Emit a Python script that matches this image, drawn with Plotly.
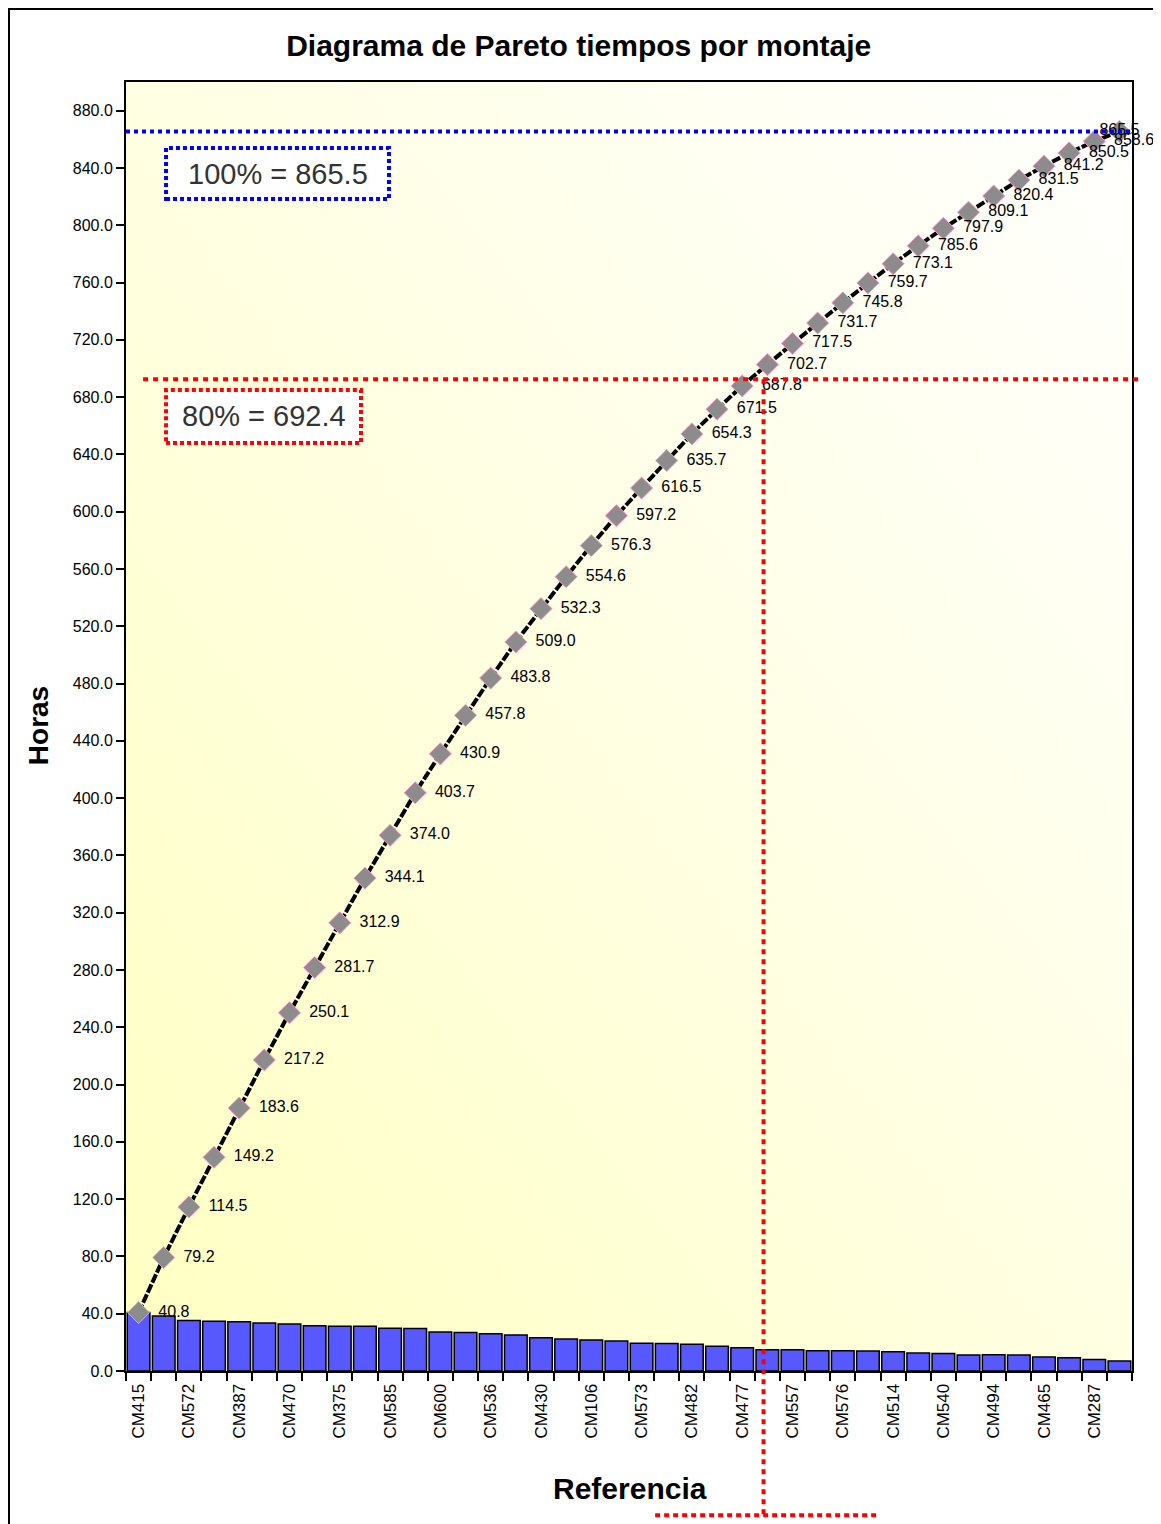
import base64
import plotly.graph_objects as go

# ---------------- data ----------------
cumulative = [40.8, 79.2, 114.5, 149.2, 183.6, 217.2, 250.1, 281.7, 312.9, 344.1,
              374.0, 403.7, 430.9, 457.8, 483.8, 509.0, 532.3, 554.6, 576.3, 597.2,
              616.5, 635.7, 654.3, 671.5, 687.8, 702.7, 717.5, 731.7, 745.8, 759.7,
              773.1, 785.6, 797.9, 809.1, 820.4, 831.5, 841.2, 850.5, 858.6, 865.5]
hours = [40.8, 38.4, 35.3, 34.7, 34.4, 33.6, 32.9, 31.6, 31.2, 31.2,
         29.9, 29.7, 27.2, 26.9, 26.0, 25.2, 23.3, 22.3, 21.7, 20.9,
         19.3, 19.2, 18.6, 17.2, 16.3, 14.9, 14.8, 14.2, 14.1, 13.9,
         13.4, 12.5, 12.3, 11.2, 11.3, 11.1, 9.7, 9.3, 8.1, 6.9]
shown_labels = ["CM415", "CM572", "CM387", "CM470", "CM375", "CM585", "CM600",
                "CM536", "CM430", "CM106", "CM573", "CM482", "CM477", "CM557",
                "CM576", "CM514", "CM540", "CM494", "CM465", "CM287"]
y_ticks = [i * 40 for i in range(23)]
total_value = 865.5
pct80_value = 692.4
cut_index = 24.85  # where the 80% marker line is drawn

n = len(hours)
xs = list(range(n))
label_positions = xs[::2]

FONT = "Liberation Sans, Arial, sans-serif"

fig = go.Figure()

fig.add_trace(go.Bar(
    x=xs, y=hours, width=0.9,
    marker=dict(color="#5858FF", line=dict(color="black", width=1.5)),
    showlegend=False, hoverinfo="skip",
))

fig.add_trace(go.Scatter(
    x=xs, y=cumulative, mode="lines+markers",
    line=dict(color="black", width=4, dash="9px,2px"),
    marker=dict(symbol="diamond", size=17, color="#8C8C8C",
                line=dict(color="#FF9ACD", width=1)),
    cliponaxis=False, showlegend=False,
))

# data labels (transparent, larger markers push the text a little further out)
text_pos = ["middle right"] * (n - 1) + ["middle center"]
fig.add_trace(go.Scatter(
    x=xs, y=cumulative, mode="markers+text",
    text=[f"{v:.1f}" for v in cumulative],
    textposition=text_pos,
    textfont=dict(family=FONT, size=16, color="black"),
    marker=dict(size=30, color="rgba(0,0,0,0)"),
    cliponaxis=False, showlegend=False, hoverinfo="skip",
))

# background gradient (style only)
svg = ('<svg xmlns="http://www.w3.org/2000/svg" width="100" height="100" '
       'preserveAspectRatio="none"><defs><linearGradient id="g" x1="0" y1="1" x2="1" y2="0">'
       '<stop offset="0" stop-color="#FFFFC2"/><stop offset="0.55" stop-color="#FFFFE6"/>'
       '<stop offset="1" stop-color="#FFFFFF"/></linearGradient></defs>'
       '<rect width="100" height="100" fill="url(#g)"/></svg>')
src = "data:image/svg+xml;base64," + base64.b64encode(svg.encode()).decode()
fig.add_layout_image(dict(source=src, xref="paper", yref="paper", x=0, y=1,
                          sizex=1, sizey=1, sizing="stretch", layer="below",
                          xanchor="left", yanchor="top"))

y_max = 900.0
x_lo, x_hi = -0.5, n - 0.5
cut_frac = (cut_index - x_lo) / (x_hi - x_lo)

shapes = [
    # 100% line
    dict(type="line", xref="x domain", yref="y domain", x0=0, x1=1,
         y0=total_value / y_max, y1=total_value / y_max,
         line=dict(color="#0000FF", width=4, dash="4px,4px")),
    # 80% horizontal
    dict(type="line", xref="x domain", yref="y domain", x0=0.017, x1=1.008,
         y0=pct80_value / y_max, y1=pct80_value / y_max,
         line=dict(color="#FF0000", width=4, dash="5px,5px")),
    # 80% vertical
    dict(type="line", xref="x domain", yref="y domain", x0=cut_frac, x1=cut_frac,
         y0=pct80_value / y_max, y1=-0.112,
         line=dict(color="#FF0000", width=4, dash="5px,5px")),
    # bottom red tick
    dict(type="line", xref="x domain", yref="y domain", x0=0.526, x1=0.749,
         y0=-0.112, y1=-0.112,
         line=dict(color="#FF0000", width=4, dash="5px,4px")),
    # boxes
    dict(type="rect", xref="paper", yref="paper", x0=0.0398, x1=0.2614,
         y0=0.9092, y1=0.9488, fillcolor="white",
         line=dict(color="#0000FF", width=4, dash="4px,3px")),
    dict(type="rect", xref="paper", yref="paper", x0=0.0398, x1=0.2336,
         y0=0.7200, y1=0.7610, fillcolor="white",
         line=dict(color="#FF0000", width=4, dash="4px,3px")),
    # outer frame
    dict(type="line", xref="paper", yref="paper", x0=-0.1163, x1=-0.1163,
         y0=1.0574, y1=-0.2, line=dict(color="black", width=2)),
    dict(type="line", xref="paper", yref="paper", x0=-0.1173, x1=1.1,
         y0=1.0566, y1=1.0566, line=dict(color="black", width=2)),
]

annotations = [
    dict(text=f"100% = {total_value:.1f}", xref="paper", yref="paper",
         x=0.1506, y=0.929, xanchor="center", yanchor="middle", showarrow=False,
         font=dict(family=FONT, size=29, color="#333333")),
    dict(text=f"80% = {pct80_value:.1f}", xref="paper", yref="paper",
         x=0.1367, y=0.7405, xanchor="center", yanchor="middle", showarrow=False,
         font=dict(family=FONT, size=29, color="#333333")),
    dict(text="Horas", xref="paper", yref="paper", x=-0.0875, y=0.501,
         xanchor="center", yanchor="middle",
         textangle=-90, showarrow=False,
         font=dict(family=FONT, size=28, color="black", weight="bold")),
    dict(text="Referencia", xref="paper", yref="paper", x=0.501, y=-0.0908,
         xanchor="center", yanchor="middle", showarrow=False,
         font=dict(family=FONT, size=30, color="black", weight="bold")),
]

# page body adds an 8px offset; size the figure so the plot lands where the reference has it
fig.update_layout(
    width=1153, height=1516,
    margin=dict(l=118, r=29, t=74, b=153),
    paper_bgcolor="white", plot_bgcolor="rgba(0,0,0,0)",
    title=dict(text="Diagrama de Pareto tiempos por montaje", x=0.495, xanchor="center",
               y=1 - 37 / 1516, yanchor="middle",
               font=dict(family=FONT, size=30, color="black", weight="bold")),
    shapes=shapes, annotations=annotations,
    bargap=0.1,
    xaxis=dict(range=[x_lo, x_hi], tickmode="array", tickvals=label_positions,
               ticktext=shown_labels, tickangle=-90, ticks="",
               tickfont=dict(family=FONT, size=17, color="black"),
               ticklabelstandoff=4,
               minor=dict(tickmode="linear", tick0=-0.5, dtick=1, ticks="outside",
                          ticklen=8, tickcolor="black", tickwidth=1.5, showgrid=False),
               showline=True, linecolor="black", linewidth=2, mirror=True,
               showgrid=False, zeroline=False),
    yaxis=dict(range=[0, y_max], tickmode="array", tickvals=y_ticks,
               ticktext=[f"{v:.1f}" for v in y_ticks],
               ticks="outside", ticklen=8, tickcolor="black", tickwidth=1.5,
               tickfont=dict(family=FONT, size=16, color="black"),
               showline=True, linecolor="black", linewidth=2, mirror=True,
               showgrid=False, zeroline=False),
)

fig.write_html("out.html")
